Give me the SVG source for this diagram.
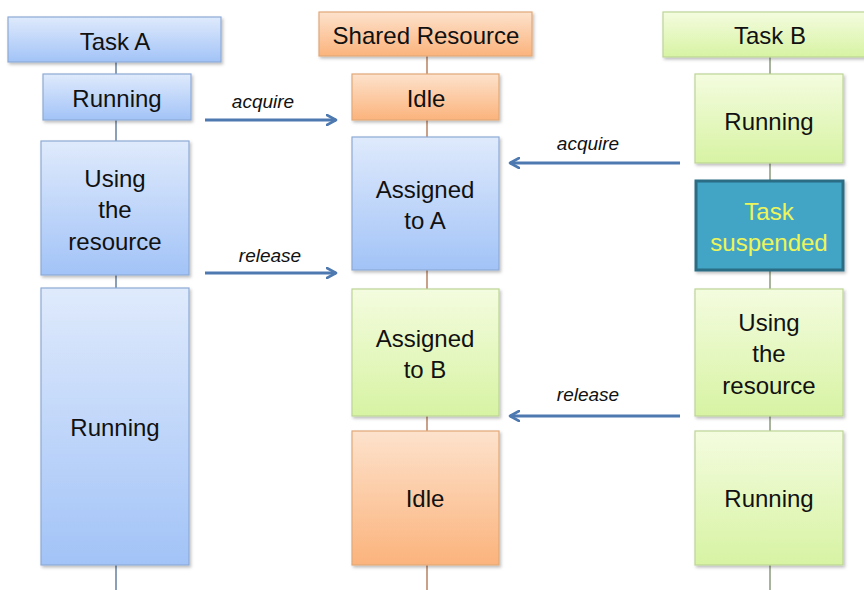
<svg xmlns="http://www.w3.org/2000/svg" width="864" height="590" viewBox="0 0 864 590">
<defs>
<linearGradient id="gBlue" x1="0" y1="0" x2="0" y2="1"><stop offset="0" stop-color="#dfeafc"/><stop offset="1" stop-color="#a2c3f7"/></linearGradient>
<linearGradient id="gOrange" x1="0" y1="0" x2="0" y2="1"><stop offset="0" stop-color="#fde2cc"/><stop offset="1" stop-color="#fbb37c"/></linearGradient>
<linearGradient id="gGreen" x1="0" y1="0" x2="0" y2="1"><stop offset="0" stop-color="#f4fcdf"/><stop offset="1" stop-color="#d7f3a3"/></linearGradient>
<filter id="sh" x="-10%" y="-10%" width="125%" height="125%"><feDropShadow dx="1.5" dy="2" stdDeviation="1.5" flood-color="#000" flood-opacity="0.25"/></filter>
<marker id="ah" viewBox="0 0 12 12" refX="10" refY="6" markerWidth="12" markerHeight="12" markerUnits="userSpaceOnUse" orient="auto"><path d="M1,1 L10,6 L1,11" fill="none" stroke="#4d79b0" stroke-width="2.6" stroke-linejoin="round" stroke-linecap="round"/></marker>
<style>
.blue{fill:url(#gBlue);stroke:#8eaad6;stroke-width:1.2;filter:url(#sh)}
.orange{fill:url(#gOrange);stroke:#e2a878;stroke-width:1.2;filter:url(#sh)}
.green{fill:url(#gGreen);stroke:#bcd596;stroke-width:1.2;filter:url(#sh)}
.susp{fill:#42a5c5;stroke:#2b6d85;stroke-width:3;filter:url(#sh)}
.t{font-family:"Liberation Sans",Arial,sans-serif;font-size:24px;fill:#111;text-anchor:middle}
.ty{font-family:"Liberation Sans",Arial,sans-serif;font-size:24px;fill:#eef55a;text-anchor:middle}
.lbl{font-family:"Liberation Sans",Arial,sans-serif;font-size:19px;font-style:italic;fill:#111;text-anchor:middle}
.arr{stroke:#4d79b0;stroke-width:3;fill:none;marker-end:url(#ah)}
.llA{stroke:#8c9fb8;stroke-width:2}
.llR{stroke:#c9a088;stroke-width:2}
.llB{stroke:#a8b39c;stroke-width:2}
</style>
</defs>
<rect width="864" height="590" fill="#fff"/>
<g id="lifelines">
<line class="llA" x1="116" y1="60" x2="116" y2="590"/>
<line class="llR" x1="427" y1="55" x2="427" y2="590"/>
<line class="llB" x1="770" y1="55" x2="770" y2="590"/>
</g>
<g id="taskA">
<rect class="blue" x="8" y="17" width="213" height="45"/>
<text class="t" x="115" y="50">Task A</text>
</g>
<g id="a-running1">
<rect class="blue" x="43" y="74" width="148" height="46"/>
<text class="t" x="117" y="107">Running</text>
</g>
<g id="a-using">
<rect class="blue" x="41" y="141" width="148" height="134"/>
<text class="t" x="115" y="187">Using</text>
<text class="t" x="115" y="218">the</text>
<text class="t" x="115" y="250">resource</text>
</g>
<g id="a-running2">
<rect class="blue" x="41" y="288" width="148" height="277"/>
<text class="t" x="115" y="436">Running</text>
</g>
<g id="resource">
<rect class="orange" x="319" y="12" width="213" height="44"/>
<text class="t" x="426" y="44">Shared Resource</text>
</g>
<g id="r-idle1">
<rect class="orange" x="352" y="74" width="147" height="46"/>
<text class="t" x="426" y="107">Idle</text>
</g>
<g id="r-assignedA">
<rect class="blue" x="352" y="137" width="147" height="133"/>
<text class="t" x="425" y="198">Assigned</text>
<text class="t" x="425" y="229">to A</text>
</g>
<g id="r-assignedB">
<rect class="green" x="352" y="289" width="147" height="127"/>
<text class="t" x="425" y="347">Assigned</text>
<text class="t" x="425" y="378">to B</text>
</g>
<g id="r-idle2">
<rect class="orange" x="352" y="431" width="147" height="134"/>
<text class="t" x="425" y="507">Idle</text>
</g>
<g id="taskB">
<rect class="green" x="663" y="12" width="205" height="45"/>
<text class="t" x="770" y="44">Task B</text>
</g>
<g id="b-running1">
<rect class="green" x="695" y="74" width="148" height="89"/>
<text class="t" x="769" y="130">Running</text>
</g>
<g id="b-suspended">
<rect class="susp" x="696" y="181" width="147" height="89"/>
<text class="ty" x="769" y="220">Task</text>
<text class="ty" x="769" y="251">suspended</text>
</g>
<g id="b-using">
<rect class="green" x="695" y="289" width="148" height="127"/>
<text class="t" x="769" y="331">Using</text>
<text class="t" x="769" y="362">the</text>
<text class="t" x="769" y="394">resource</text>
</g>
<g id="b-running2">
<rect class="green" x="695" y="431" width="148" height="134"/>
<text class="t" x="769" y="507">Running</text>
</g>
<g id="connectors">
<line class="arr" x1="205" y1="120" x2="336" y2="120"/>
<text class="lbl" x="263" y="108">acquire</text>
<line class="arr" x1="205" y1="273" x2="336" y2="273"/>
<text class="lbl" x="270" y="262">release</text>
<line class="arr" x1="680" y1="163" x2="510" y2="163"/>
<text class="lbl" x="588" y="150">acquire</text>
<line class="arr" x1="680" y1="416" x2="510" y2="416"/>
<text class="lbl" x="588" y="401">release</text>
</g>
</svg>
